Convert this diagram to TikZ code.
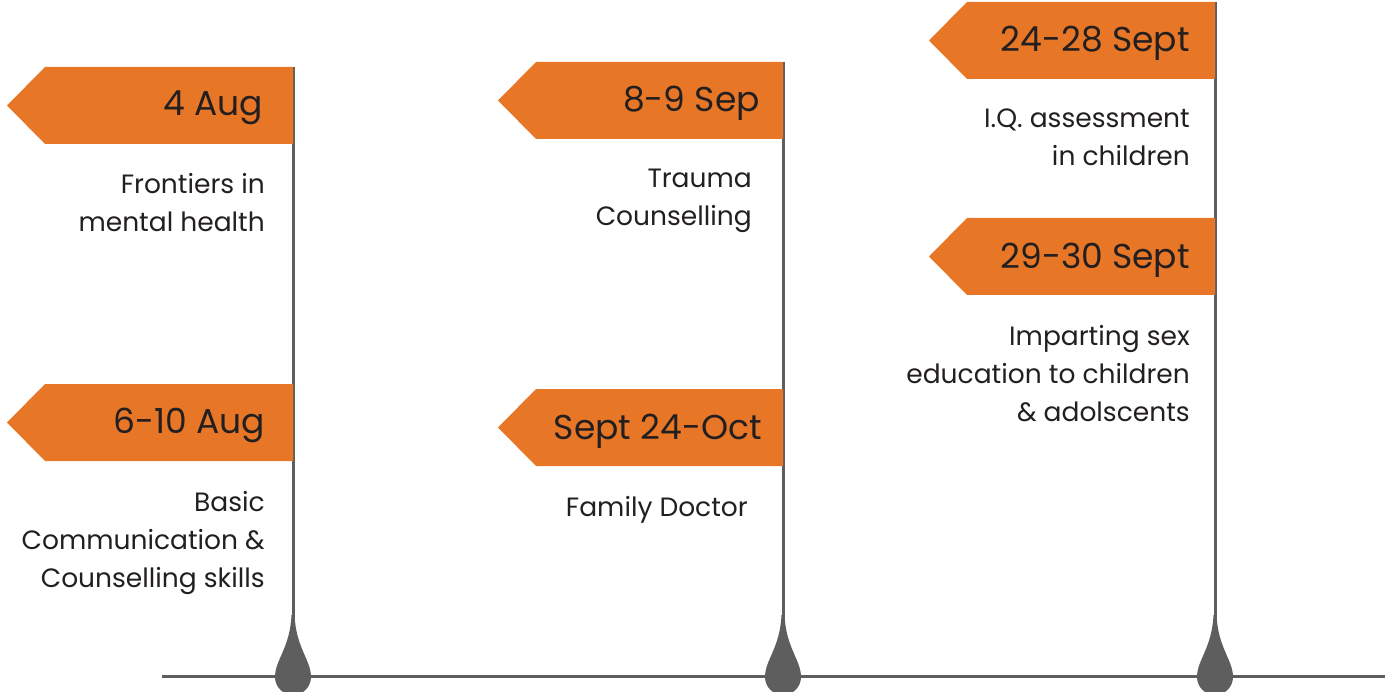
\documentclass[tikz,border=0pt]{standalone}
\usepackage{fontspec}
\setmainfont{Poppins}
\usepackage{tikz}
\usetikzlibrary{positioning, calc}
\usepackage{xcolor}
\definecolor{flagorange}{HTML}{E77726}
\definecolor{stemgray}{HTML}{5E5E5E}
\definecolor{inkgray}{HTML}{231F20}

\begin{document}
\begin{tikzpicture}[x=1pt, y=-1pt,
  flag/.style={fill=flagorange},
  stem/.style={draw=stemgray, line width=3pt},
  datetext/.style={anchor=east, inner sep=0pt, text=inkgray, font=\fontsize{34.5}{38}\selectfont},
  desc/.style={anchor=north east, inner sep=0pt, align=right, text=inkgray, font=\fontsize{26.5}{38}\selectfont}]
  \useasboundingbox (0,0) rectangle (1397,692);

  % poles and base line
  \draw[stem] (162,676) -- (1385,676);
  \foreach \px/\py in {293/67, 783/62, 1215/2} {
    \draw[stem] (\px,\py) -- (\px,676);
    \fill[stemgray] (\px+1.5,615) .. controls (\px+3,648) and (\px+18,660) .. (\px+18,677)
      arc[start angle=0, end angle=180, radius=18]
      .. controls (\px-18,660) and (\px-3,648) .. (\px-1.5,615) -- cycle;
  }

  % flags
  \foreach \lx/\rx/\ty in {7/293/67, 7/293/384, 498/783/62, 498/783/389, 929/1215/2, 929/1215/218} {
    \fill[flag] (\rx,\ty) -- (\lx+38,\ty) -- (\lx,\ty+38.5) -- (\lx+38,\ty+77) -- (\rx,\ty+77) -- cycle;
  }

  % dates
  \node[datetext] (AugFour) at (263,108) {4 Aug};
  \node[datetext] (AugSix) at (265,425) {6-10 Aug};
  \node[datetext] (SepEight) at (760,103) {8-9 Sep};
  \node[datetext] (SeptOct) at (762,431) {Sept 24-Oct};
  \node[datetext] (SeptTwentyFour) at (1190,43) {24-28 Sept};
  \node[datetext] (SeptTwentyNine) at (1190,260) {29-30 Sept};

  % descriptions
  \node[desc] (Frontiers) at (265,173) {Frontiers in\\mental health};
  \node[desc] (Basic) at (265,491) {Basic\\Communication \&\\Counselling skills};
  \node[desc] (Trauma) at (752,169) {Trauma\\Counselling};
  \node[desc] (Family) at (748,496) {Family Doctor};
  \node[desc] (IQ) at (1190,109) {I.Q. assessment\\in children};
  \node[desc] (SexEd) at (1190,325) {Imparting sex\\education to children\\\& adolscents};
\end{tikzpicture}
\end{document}
